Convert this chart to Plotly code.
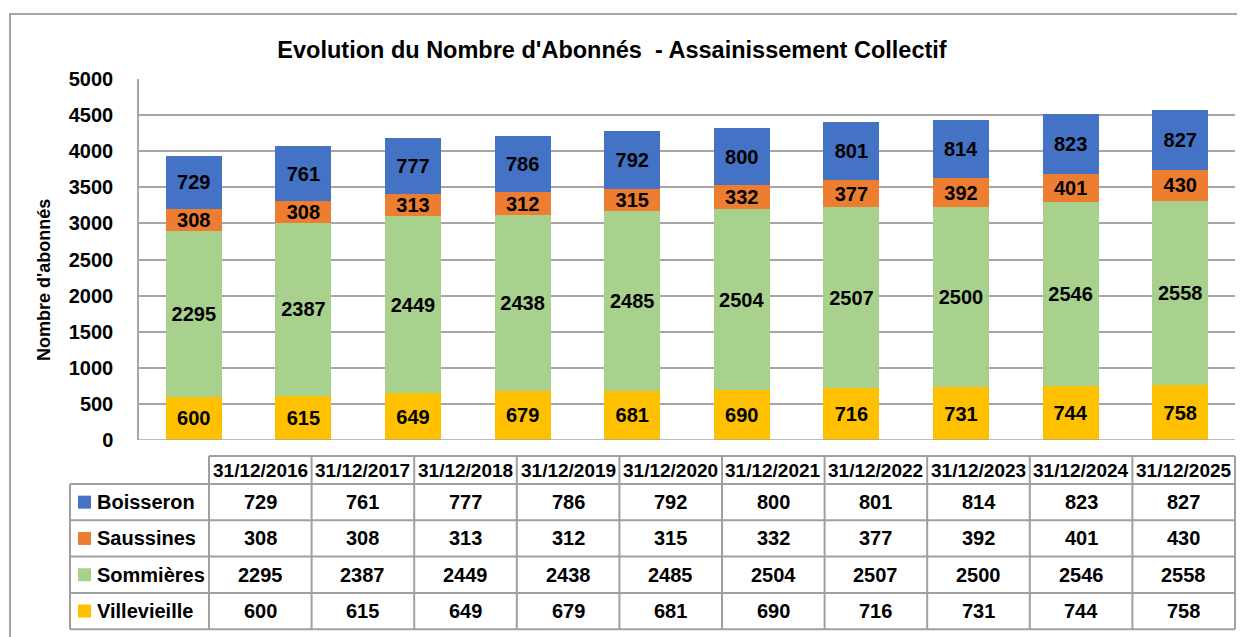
import plotly.graph_objects as go

# data
dates = ["31/12/2016", "31/12/2017", "31/12/2018", "31/12/2019", "31/12/2020",
         "31/12/2021", "31/12/2022", "31/12/2023", "31/12/2024", "31/12/2025"]
villevieille = [600, 615, 649, 679, 681, 690, 716, 731, 744, 758]
sommieres = [2295, 2387, 2449, 2438, 2485, 2504, 2507, 2500, 2546, 2558]
saussines = [308, 308, 313, 312, 315, 332, 377, 392, 401, 430]
boisseron = [729, 761, 777, 786, 792, 800, 801, 814, 823, 827]

series_names = ["Boisseron", "Saussines", "Sommières", "Villevieille"]
series_vals = [boisseron, saussines, sommieres, villevieille]
colors = ["#4472C4", "#ED7D31", "#A9D18E", "#FFC000"]

FONT = "Liberation Sans, Arial"
OFF = 8                     # page body margin
W, H = 1245 - OFF, 637 - OFF
L, R, T, B = 139, 1235, 79, 440   # plot area in screen pixels


def px(x):
    return (x - L) / (R - L)


def py(y):
    return (B - y) / (B - T)


fig = go.Figure()
# stack bottom-up
for name, vals, col in reversed(list(zip(series_names, series_vals, colors))):
    fig.add_trace(go.Bar(
        x=dates, y=vals, name=name, marker_color=col, marker_line_width=0,
        text=vals, texttemplate="%{text}", textposition="inside", textangle=0,
        insidetextanchor="middle", constraintext="none",
        textfont=dict(family=FONT, size=20, color="black", weight="bold"),
        showlegend=False,
    ))

shapes = []
annotations = []

# outer chart frame
shapes.append(dict(type="rect", xref="paper", yref="paper",
                   x0=px(10), x1=px(1252), y0=py(14), y1=py(650),
                   line=dict(color="#A6A6A6", width=2), layer="below"))

# data table under the chart
col_edges = [209 + i * 102.6 for i in range(11)]
head_top, head_bot = 456, 484
row_edges = [484 + i * 36.3 for i in range(5)]
tcol = "#A0A0A0"
# horizontal lines
shapes.append(dict(type="line", xref="paper", yref="paper", x0=px(col_edges[0]), x1=px(col_edges[-1]),
                   y0=py(head_top), y1=py(head_top), line=dict(color=tcol, width=2)))
for yy in row_edges:
    shapes.append(dict(type="line", xref="paper", yref="paper", x0=px(70), x1=px(col_edges[-1]),
                       y0=py(yy), y1=py(yy), line=dict(color=tcol, width=2)))
# vertical lines
shapes.append(dict(type="line", xref="paper", yref="paper", x0=px(70), x1=px(70),
                   y0=py(row_edges[0]), y1=py(row_edges[-1]), line=dict(color=tcol, width=2)))
for xx in col_edges:
    shapes.append(dict(type="line", xref="paper", yref="paper", x0=px(xx), x1=px(xx),
                       y0=py(head_top), y1=py(row_edges[-1]), line=dict(color=tcol, width=2)))

tfont = dict(family=FONT, size=20, color="black", weight="bold")
for i, d in enumerate(dates):
    cx = (col_edges[i] + col_edges[i + 1]) / 2
    annotations.append(dict(x=px(cx), y=py((head_top + head_bot) / 2), xref="paper", yref="paper",
                            xanchor="center", yanchor="middle",
                            text=d, showarrow=False, font=dict(tfont, size=19)))
for r, (name, vals, col) in enumerate(zip(series_names, series_vals, colors)):
    cy = (row_edges[r] + row_edges[r + 1]) / 2
    shapes.append(dict(type="rect", xref="paper", yref="paper", x0=px(78), x1=px(91),
                       y0=py(cy - 6.5), y1=py(cy + 6.5), fillcolor=col, line_width=0))
    annotations.append(dict(x=px(95), y=py(cy), xref="paper", yref="paper",
                            xanchor="left", yanchor="middle",
                            text=name, showarrow=False, font=tfont))
    for i, v in enumerate(vals):
        cx = (col_edges[i] + col_edges[i + 1]) / 2
        annotations.append(dict(x=px(cx), y=py(cy), xref="paper", yref="paper",
                                xanchor="center", yanchor="middle",
                                text=str(v), showarrow=False, font=tfont))

# y axis title
annotations.append(dict(x=px(44), y=py(280), xref="paper", yref="paper", textangle=-90,
                        xanchor="center", yanchor="middle",
                        text="Nombre d'abonnés", showarrow=False,
                        font=dict(family=FONT, size=18, color="black", weight="bold")))

fig.update_layout(
    width=W, height=H,
    margin=dict(l=L - OFF, r=W - (R - OFF), t=T - OFF, b=H - (B - OFF)),
    barmode="stack", bargap=0.49,
    plot_bgcolor="white", paper_bgcolor="white",
    title=dict(text="Evolution du Nombre d'Abonnés  - Assainissement Collectif",
               x=(612 - OFF) / W, xanchor="center", y=1 - (50 - OFF) / H, yanchor="middle",
               font=dict(family=FONT, size=23.5, color="black", weight="bold")),
    xaxis=dict(showticklabels=False, showline=False, showgrid=False, ticks=""),
    yaxis=dict(range=[0, 5000], dtick=500, showgrid=True, gridcolor="#A6A6A6", gridwidth=1.5,
               zeroline=False, showline=True, linecolor="#A6A6A6", linewidth=1.5,
               ticklabelstandoff=20,
               tickfont=dict(family=FONT, size=20, color="black", weight="bold")),
    uniformtext=dict(minsize=20, mode="show"),
    shapes=shapes, annotations=annotations,
)
# zero line across the plot
fig.add_shape(type="line", xref="paper", yref="y", x0=0, x1=1, y0=0, y1=0,
              line=dict(color="#A6A6A6", width=1.5))

fig.write_html("out.html")
